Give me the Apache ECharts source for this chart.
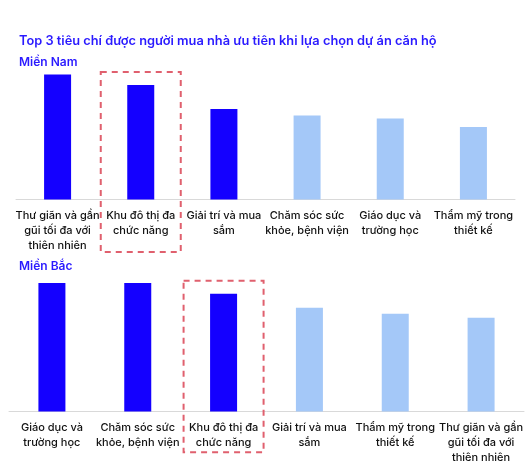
<!DOCTYPE html>
<html>
<head>
<meta charset="utf-8">
<script src="https://cdn.jsdelivr.net/npm/echarts@6/dist/echarts.min.js"></script>
<style>
  html, body { margin: 0; padding: 0; background: #fff; }
  #chart { width: 529px; height: 465px; }
</style>
</head>
<body>
<div id="chart"></div>
<script>
const TITLE = 'Top 3 tiêu chí được người mua nhà ưu tiên khi lựa chọn dự án căn hộ';

// Miền Nam (relative scores)
const southLabel = 'Miền Nam';
const southCategories = [
    'Thư giãn và gần\ngũi tối đa với\nthiên nhiên',
    'Khu đô thị đa\nchức năng',
    'Giải trí và mua\nsắm',
    'Chăm sóc sức\nkhỏe, bệnh viện',
    'Giáo dục và\ntrường học',
    'Thẩm mỹ trong\nthiết kế'
];
const southValues = [125, 114.5, 90.5, 84, 81, 72.5];
const southHighlight = 1;

// Miền Bắc
const northLabel = 'Miền Bắc';
const northCategories = [
    'Giáo dục và\ntrường học',
    'Chăm sóc sức\nkhỏe, bệnh viện',
    'Khu đô thị đa\nchức năng',
    'Giải trí và mua\nsắm',
    'Thẩm mỹ trong\nthiết kế',
    'Thư giãn và gần\ngũi tối đa với\nthiên nhiên'
];
const northValues = [129.3, 129.3, 118.6, 104.3, 98.3, 94.3];
const northHighlight = 2;

const TOP_COLOR = '#1400ff';
const REST_COLOR = '#a4c8f8';
const TEXT_BLUE = '#2a1aff';
const FONT = 'Inter, "Noto Sans", sans-serif';

function barColor(params) {
    // top 3 criteria are dark blue
    return params.dataIndex < 3 ? TOP_COLOR : REST_COLOR;
}

function xAxisFor(idx, cats, margin) {
    return {
        type: 'category',
        gridIndex: idx,
        data: cats,
        axisTick: { show: false },
        axisLine: { lineStyle: { color: '#d9d9d9', width: 1 } },
        axisLabel: {
            interval: 0,
            margin: margin,
            fontFamily: FONT,
            fontSize: 11,
            fontWeight: 500,
            lineHeight: 15,
            color: '#111111'
        }
    };
}

function yAxisFor(idx, max) {
    return {
        type: 'value',
        gridIndex: idx,
        min: 0,
        max: max,
        show: false,
        splitLine: { show: false }
    };
}

const chartDom = document.getElementById('chart');
const myChart = echarts.init(chartDom);

const option = {
    backgroundColor: '#ffffff',
    animation: false,
    title: [
        {
            text: TITLE,
            left: 14,
            top: 30,
            textStyle: { fontFamily: FONT, fontSize: 12.8, fontWeight: 600, color: TEXT_BLUE }
        },
        {
            text: southLabel,
            left: 14,
            top: 51,
            textStyle: { fontFamily: FONT, fontSize: 12, fontWeight: 600, color: TEXT_BLUE }
        },
        {
            text: northLabel,
            left: 14,
            top: 255,
            textStyle: { fontFamily: FONT, fontSize: 12, fontWeight: 600, color: TEXT_BLUE }
        }
    ],
    grid: [
        { left: 16, right: 14, top: 74.5, bottom: 265.5 },
        { left: 9, right: 5, top: 283, bottom: 52.7 }
    ],
    xAxis: [
        xAxisFor(0, southCategories, 9),
        xAxisFor(1, northCategories, 8.5)
    ],
    yAxis: [
        yAxisFor(0, southValues[0]),
        yAxisFor(1, northValues[0])
    ],
    series: [
        {
            name: southLabel,
            type: 'bar',
            xAxisIndex: 0,
            yAxisIndex: 0,
            barWidth: 27,
            data: southValues,
            itemStyle: { color: barColor }
        },
        {
            name: northLabel,
            type: 'bar',
            xAxisIndex: 1,
            yAxisIndex: 1,
            barWidth: 27,
            data: northValues,
            itemStyle: { color: barColor }
        }
    ]
};

myChart.setOption(option);

// Dashed boxes around "Khu đô thị đa chức năng" in each panel
function highlightBox(gridIdx, catIdx, maxVal, above, below) {
    const cx = myChart.convertToPixel({ xAxisIndex: gridIdx }, catIdx);
    const yTop = myChart.convertToPixel({ yAxisIndex: gridIdx }, maxVal);
    const yBase = myChart.convertToPixel({ yAxisIndex: gridIdx }, 0);
    return {
        type: 'rect',
        shape: { x: cx - 40, y: yTop - above, width: 80, height: (yBase + below) - (yTop - above) },
        style: { fill: 'none', stroke: '#e0606e', lineWidth: 2, lineDash: [6, 5] },
        z: 10
    };
}

myChart.setOption({
    graphic: [
        highlightBox(0, southHighlight, southValues[0], 2.5, 52.5),
        highlightBox(1, northHighlight, northValues[0], 2.3, 40.7)
    ]
});

window.addEventListener('resize', function() {
    myChart.resize();
});
</script>
</body>
</html>
